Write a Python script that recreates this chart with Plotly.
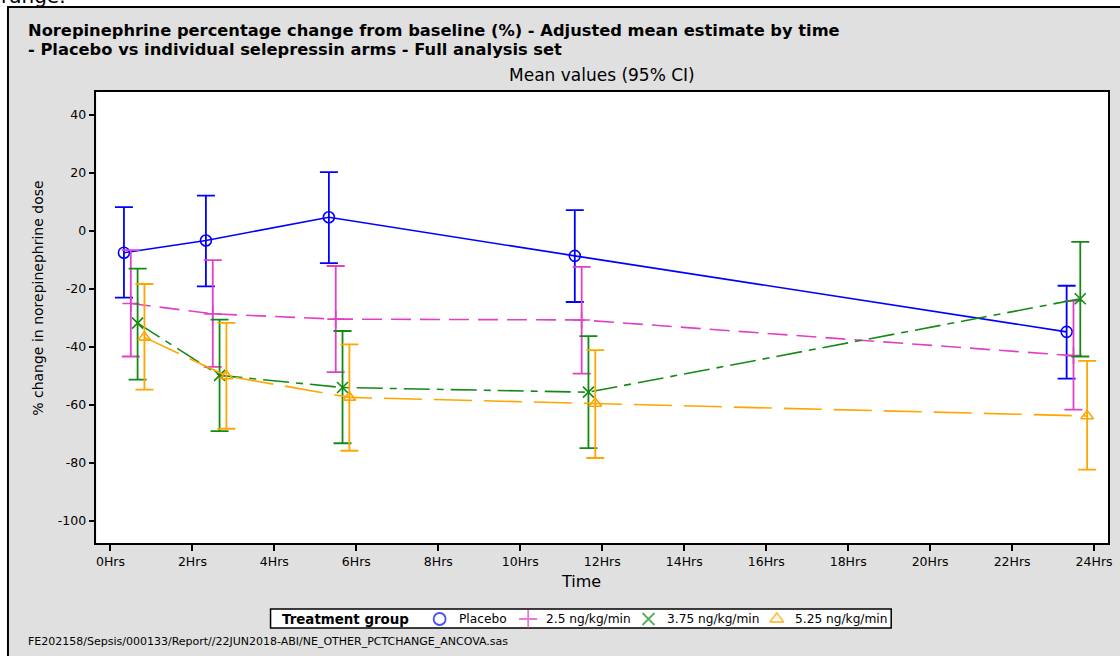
import plotly.graph_objects as go

# ---------------- data ----------------
time_hours = [0.58, 2.58, 5.58, 11.58, 23.58]
x_tickvals = [0, 2, 4, 6, 8, 10, 12, 14, 16, 18, 20, 22, 24]
x_ticktext = [f"{v}Hrs" for v in x_tickvals]
y_tickvals = [-100, -80, -60, -40, -20, 0, 20, 40]
y_ticktext = [str(v) for v in y_tickvals]  # plain hyphen minus, as in the reference

group_names = ["Placebo", "2.5 ng/kg/min", "3.75 ng/kg/min", "5.25 ng/kg/min"]

placebo_mean = [-7.5, -3.3, 4.7, -8.6, -34.8]
placebo_lo = [-23.0, -19.1, -11.1, -24.5, -50.9]
placebo_hi = [8.2, 12.2, 20.3, 7.2, -18.9]

dose25_mean = [-25.0, -28.6, -30.4, -30.7, -43.0]
dose25_lo = [-43.3, -46.9, -48.7, -49.2, -61.6]
dose25_hi = [-6.6, -10.1, -12.1, -12.4, -24.1]

dose375_mean = [-31.8, -49.8, -54.0, -55.6, -23.4]
dose375_lo = [-51.3, -69.0, -73.2, -74.9, -43.3]
dose375_hi = [-13.0, -30.6, -34.5, -36.3, -3.8]

dose525_mean = [-36.7, -50.0, -57.4, -59.5, -63.8]
dose525_lo = [-54.7, -68.2, -75.8, -78.3, -82.3]
dose525_hi = [-18.3, -31.7, -39.1, -41.1, -44.8]

# ---------------- styles / layout (pixel based) ----------------
FONT = "DejaVu Sans"
W, H = 1120, 656
PLOT_L, PLOT_R, PLOT_T, PLOT_B = 96, 1113, 92, 543

series = [
    (placebo_mean, placebo_lo, placebo_hi, "#0000FF", "solid", "circle-open", 11, -0.25),
    (dose25_mean, dose25_lo, dose25_hi, "#E040C8", "20px,9px", "cross-thin-open", 12, -0.083),
    (dose375_mean, dose375_lo, dose375_hi, "#148A14", "26px,7px,7px,7px", "x-thin-open", 11, 0.083),
    (dose525_mean, dose525_lo, dose525_hi, "#FFA500", "38px,12px", "triangle-up-open", 11, 0.25),
]

# legend layout (pixels)
LEG_BOX = (271, 895, 609, 628)
LEG_Y = 619
LEG_TITLE_X = 280
LEG_SYM_X = [441, 530, 651, 780]
LEG_TXT_X = [458, 546, 668, 796]


def px(xp):
    return xp / W


def py(yp):
    return 1 - yp / H


fig = go.Figure()

for (mean, lo, hi, color, dash, sym, size, off), name in zip(series, group_names):
    xs = [t + off for t in time_hours]
    fig.add_trace(go.Scatter(
        x=xs, y=mean, mode="lines+markers", name=name, showlegend=False,
        xaxis="x", yaxis="y",
        line=dict(color=color, width=1.6, dash=dash),
        marker=dict(symbol=sym, size=size, color=color, line=dict(width=1.6, color=color)),
        error_y=dict(type="data", symmetric=False,
                     array=[h - m for h, m in zip(hi, mean)],
                     arrayminus=[m - l for m, l in zip(mean, lo)],
                     width=9, thickness=1.8, color=color),
    ))

# legend symbols on a full-page overlay axis
fig.add_trace(go.Scatter(
    x=LEG_SYM_X, y=[LEG_Y] * 4, mode="markers", showlegend=False, hoverinfo="skip",
    xaxis="x2", yaxis="y2",
    marker=dict(symbol=[s[5] for s in series], size=[s[6] + 1 for s in series],
                color=[s[3] for s in series],
                line=dict(width=1.8, color=[s[3] for s in series])),
))

shapes = [
    dict(type="rect", xref="paper", yref="paper", layer="below",
         x0=px(7), x1=px(1130), y0=py(670), y1=py(7),
         fillcolor="#E0E0E0", line=dict(color="black", width=2)),
    dict(type="rect", xref="paper", yref="paper", layer="below",
         x0=px(PLOT_L), x1=px(PLOT_R), y0=py(PLOT_B), y1=py(PLOT_T),
         fillcolor="white", line=dict(width=0)),
    dict(type="rect", xref="paper", yref="paper", layer="below",
         x0=px(LEG_BOX[0]), x1=px(LEG_BOX[1]), y0=py(LEG_BOX[3]), y1=py(LEG_BOX[2]),
         fillcolor="white", line=dict(color="black", width=1.5)),
]


def ann(text, x, y, size, xanchor="left", bold=False, **kw):
    return dict(text=f"<b>{text}</b>" if bold else text, xref="paper", yref="paper",
                x=px(x), y=py(y), xanchor=xanchor, yanchor="middle", showarrow=False,
                font=dict(family=FONT, size=size, color="black"), **kw)


annotations = [
    dict(text="range.", xref="paper", yref="paper", x=px(-2), y=py(10),
         xanchor="left", yanchor="bottom", showarrow=False,
         font=dict(family=FONT, size=20, color="black")),
    ann("Norepinephrine percentage change from baseline (%) - Adjusted mean estimate by time",
        25, 30, 16.3, bold=True),
    ann("- Placebo vs individual selepressin arms - Full analysis set", 25, 50, 16.3, bold=True),
    ann("Mean values (95% CI)", (PLOT_L + PLOT_R) / 2, 75, 17, xanchor="center"),
    ann("% change in norepinephrine dose", 37, 298, 14, xanchor="center", textangle=-90),
    ann("Time", 583, 581, 16, xanchor="center"),
    ann("FE202158/Sepsis/000133/Report//22JUN2018-ABI/NE_OTHER_PCTCHANGE_ANCOVA.sas",
        25, 641, 11),
    ann("Treatment group", LEG_TITLE_X, LEG_Y, 13.4, bold=True),
]
for name, tx in zip(group_names, LEG_TXT_X):
    annotations.append(ann(name, tx, LEG_Y, 12.2))

axis_common = dict(showgrid=False, zeroline=False, showline=True, mirror=True,
                   linecolor="black", linewidth=1.5, ticks="outside", ticklen=6,
                   tickwidth=1.5, tickcolor="black",
                   tickfont=dict(family=FONT, size=12.5, color="black"))

fig.update_layout(
    width=W, height=H,
    margin=dict(l=0, r=0, t=0, b=0, pad=0),
    paper_bgcolor="white", plot_bgcolor="rgba(0,0,0,0)",
    font=dict(family=FONT, size=13, color="black"),
    showlegend=False,
    shapes=shapes, annotations=annotations,
    xaxis=dict(domain=[px(PLOT_L), px(PLOT_R)], anchor="y",
               range=[-0.34, 24.34], tickvals=x_tickvals, ticktext=x_ticktext, **axis_common),
    yaxis=dict(domain=[py(PLOT_B), py(PLOT_T)], anchor="x",
               range=[-107.6, 47.9], tickvals=y_tickvals, ticktext=y_ticktext, **axis_common),
    xaxis2=dict(domain=[0, 1], anchor="y2", range=[0, W], visible=False, fixedrange=True),
    yaxis2=dict(domain=[0, 1], anchor="x2", range=[H, 0], visible=False, fixedrange=True),
)

fig.write_html("out.html")
